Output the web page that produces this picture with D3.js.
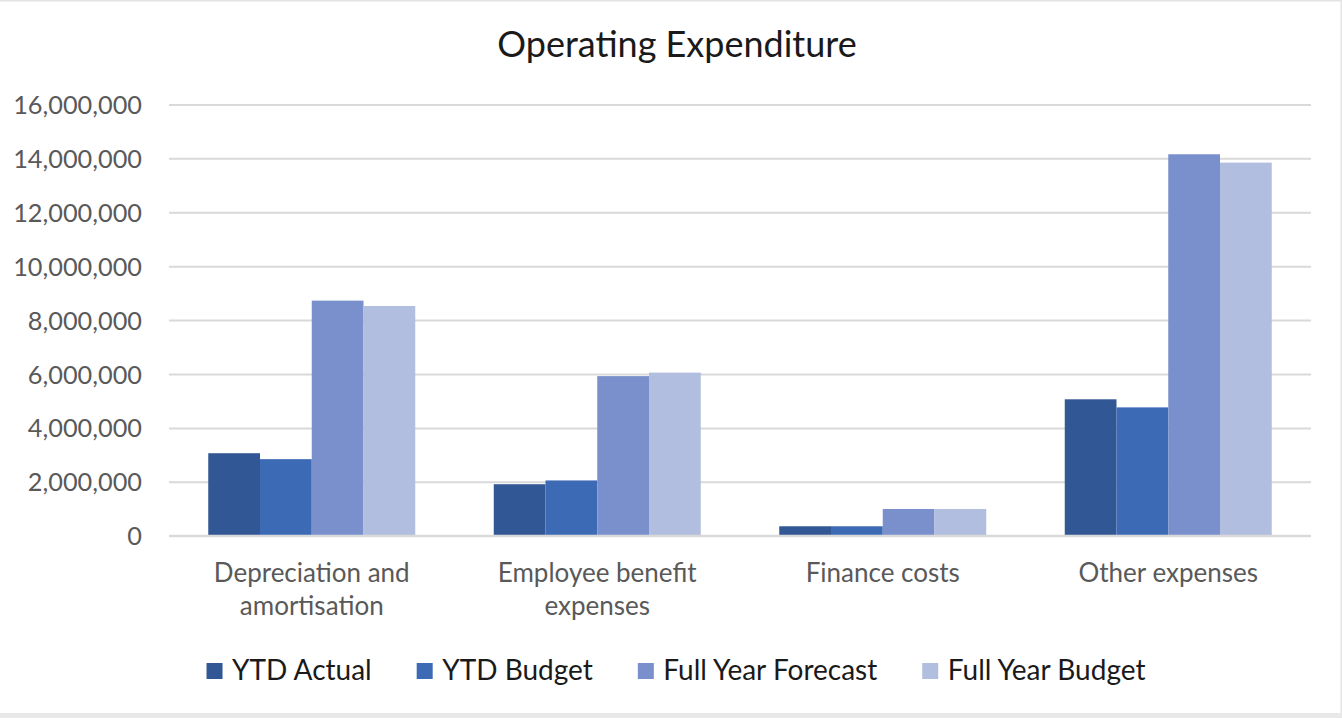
<!DOCTYPE html>
<html>
<head>
<meta charset="utf-8">
<script src="https://cdn.jsdelivr.net/npm/d3@7"></script>
<style>
  html, body { margin: 0; padding: 0; background: #fff; }
  svg { display: block; }
</style>
</head>
<body>
<svg id="chart" width="1342" height="718"></svg>
<script>
const categories = [["Depreciation and", "amortisation"], ["Employee benefit", "expenses"], ["Finance costs"], ["Other expenses"]];
const series = ["YTD Actual", "YTD Budget", "Full Year Forecast", "Full Year Budget"];
const ytdActual = [3060000, 1910000, 350000, 5060000];
const ytdBudget = [2840000, 2050000, 350000, 4760000];
const fullYearForecast = [8720000, 5920000, 990000, 14150000];
const fullYearBudget = [8520000, 6050000, 990000, 13840000];
const yTicks = [0, 2000000, 4000000, 6000000, 8000000, 10000000, 12000000, 14000000, 16000000];
const colors = ["#325795", "#3d6ab5", "#7990cc", "#b2bedf"];

const values = [ytdActual, ytdBudget, fullYearForecast, fullYearBudget];
const width = 1342, height = 718;
const margin = {left: 169, right: 31, top: 104.4, bottom: 182.3};
const font = "Lato, 'Open Sans', sans-serif";

const svg = d3.select("#chart");

// frame like the screenshot
svg.append("rect").attr("x", 0).attr("y", 0).attr("width", width).attr("height", height).attr("fill", "#fff");
svg.append("rect").attr("x", 0).attr("y", 0).attr("width", width).attr("height", 1.5).attr("fill", "#e3e3e3");
svg.append("rect").attr("x", width - 1.5).attr("y", 0).attr("width", 1.5).attr("height", height).attr("fill", "#e3e3e3");
svg.append("rect").attr("x", 0).attr("y", 713).attr("width", width).attr("height", 5).attr("fill", "#e8e8e8");

const x0 = d3.scaleBand()
  .domain(d3.range(categories.length))
  .range([margin.left, width - margin.right])
  .paddingInner(0.275)
  .paddingOuter(0.1375);

const x1 = d3.scaleBand()
  .domain(series)
  .range([0, x0.bandwidth()]);

const y = d3.scaleLinear()
  .domain([0, 16000000])
  .range([height - margin.bottom, margin.top]);

const color = d3.scaleOrdinal(series, colors);

// gridlines + tick labels
const yAxis = svg.append("g")
  .attr("transform", `translate(${margin.left},0)`)
  .call(d3.axisLeft(y)
    .tickValues(yTicks)
    .tickFormat(d3.format(","))
    .tickSize(-(width - margin.left - margin.right))
    .tickPadding(27));
yAxis.select(".domain").remove();
yAxis.selectAll(".tick line").attr("stroke", "#d9d9d9").attr("stroke-width", 2);
yAxis.selectAll(".tick text")
  .attr("fill", "#595959")
  .attr("font-family", font)
  .attr("font-size", 25.3)
  .attr("dy", "0.36em");

// bars
const group = svg.append("g")
  .selectAll("g")
  .data(categories)
  .join("g")
    .attr("transform", (d, i) => `translate(${x0(i)},0)`);

group.selectAll("rect")
  .data((d, i) => series.map((s, k) => ({key: s, value: values[k][i]})))
  .join("rect")
    .attr("x", d => x1(d.key))
    .attr("y", d => y(d.value))
    .attr("width", x1.bandwidth())
    .attr("height", d => y(0) - y(d.value))
    .attr("fill", d => color(d.key));

// baseline
svg.append("line")
  .attr("x1", margin.left).attr("x2", width - margin.right)
  .attr("y1", y(0)).attr("y2", y(0))
  .attr("stroke", "#d9d9d9").attr("stroke-width", 2);

// category labels
svg.append("g")
  .selectAll("text")
  .data(categories)
  .join("text")
    .attr("x", (d, i) => x0(i) + x0.bandwidth() / 2)
    .attr("y", 581.5)
    .attr("text-anchor", "middle")
    .attr("fill", "#595959")
    .attr("font-family", font)
    .attr("font-size", 26)
  .selectAll("tspan")
  .data(d => d)
  .join("tspan")
    .attr("x", function() { return this.parentNode.getAttribute("x"); })
    .attr("dy", (d, i) => i ? 33.5 : 0)
    .text(d => d);

// title
svg.append("text")
  .attr("x", 677)
  .attr("y", 57)
  .attr("text-anchor", "middle")
  .attr("fill", "#1a1a1a")
  .attr("font-family", font)
  .attr("font-size", 36)
  .text("Operating Expenditure");

// legend, laid out from measured text widths and centred
const legend = svg.append("g")
  .selectAll("g")
  .data(series)
  .join("g");
legend.append("rect")
  .attr("width", 16).attr("height", 16)
  .attr("fill", d => color(d));
legend.append("text")
  .attr("x", 25.5)
  .attr("y", 16.5)
  .attr("fill", "#1a1a1a")
  .attr("font-family", font)
  .attr("font-size", 28)
  .text(d => d);

let cursor = 0;
const offsets = [];
legend.each(function() {
  const w = 25.5 + d3.select(this).select("text").node().getComputedTextLength();
  offsets.push(cursor);
  cursor += w + 45;
});
const totalW = cursor - 45;
const startX = 676 - totalW / 2;
legend.attr("transform", (d, i) => `translate(${startX + offsets[i]},663)`);
</script>
</body>
</html>
